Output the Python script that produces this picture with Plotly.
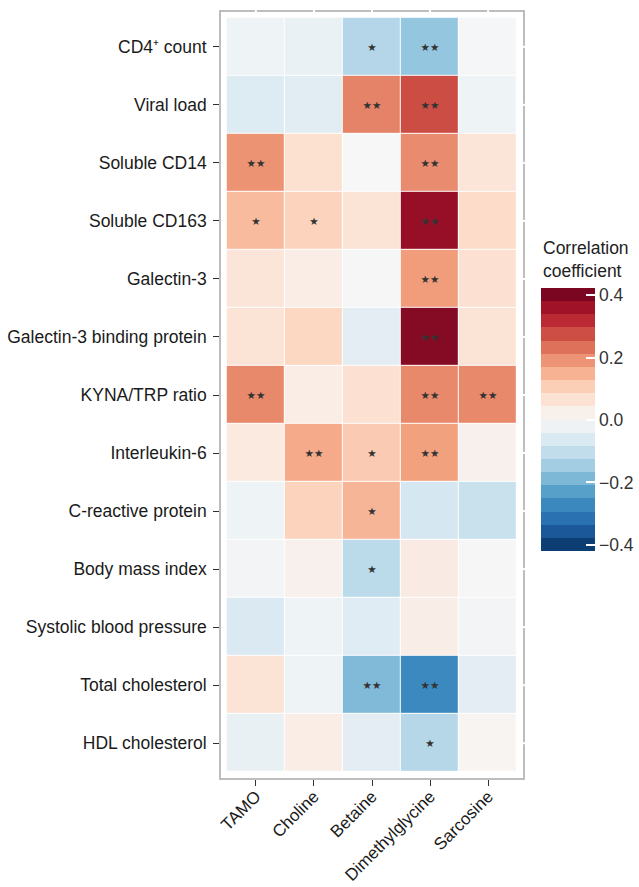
import plotly.graph_objects as go

metabolites = ["TAMO", "Choline", "Betaine", "Dimethylglycine", "Sarcosine"]
variables = ["CD4⁺ count", "Viral load", "Soluble CD14", "Soluble CD163", "Galectin-3",
             "Galectin-3 binding protein", "KYNA/TRP ratio", "Interleukin-6",
             "C-reactive protein", "Body mass index", "Systolic blood pressure",
             "Total cholesterol", "HDL cholesterol"]

# correlation coefficients (rows = variables, cols = metabolites)
r_cd4 = [-0.02, -0.03, -0.123, -0.165, -0.005]
r_vl = [-0.057, -0.046, 0.21, 0.275, -0.02]
r_scd14 = [0.19, 0.066, 0.0, 0.20, 0.055]
r_scd163 = [0.134, 0.095, 0.06, 0.367, 0.08]
r_gal3 = [0.055, 0.03, -0.003, 0.178, 0.065]
r_gal3bp = [0.058, 0.09, -0.045, 0.387, 0.058]
r_kyna = [0.203, 0.03, 0.065, 0.203, 0.203]
r_il6 = [0.04, 0.16, 0.11, 0.173, 0.02]
r_crp = [-0.02, 0.095, 0.143, -0.075, -0.096]
r_bmi = [-0.012, 0.02, -0.113, 0.035, -0.003]
r_sbp = [-0.064, -0.02, -0.053, 0.028, -0.012]
r_tc = [0.06, -0.02, -0.187, -0.272, -0.045]
r_hdl = [-0.032, 0.03, -0.045, -0.12, 0.008]

# significance marks
s_cd4 = ["", "", "*", "**", ""]
s_vl = ["", "", "**", "**", ""]
s_scd14 = ["**", "", "", "**", ""]
s_scd163 = ["*", "*", "", "**", ""]
s_gal3 = ["", "", "", "**", ""]
s_gal3bp = ["", "", "", "**", ""]
s_kyna = ["**", "", "", "**", "**"]
s_il6 = ["", "**", "*", "**", ""]
s_crp = ["", "", "*", "", ""]
s_bmi = ["", "", "*", "", ""]
s_sbp = ["", "", "", "", ""]
s_tc = ["", "", "**", "**", ""]
s_hdl = ["", "", "", "*", ""]

cbar_ticks = [-0.4, -0.2, 0.0, 0.2, 0.4]

z = [r_cd4, r_vl, r_scd14, r_scd163, r_gal3, r_gal3bp, r_kyna, r_il6, r_crp,
     r_bmi, r_sbp, r_tc, r_hdl]
sig = [s_cd4, s_vl, s_scd14, s_scd163, s_gal3, s_gal3bp, s_kyna, s_il6, s_crp,
       s_bmi, s_sbp, s_tc, s_hdl]
stars = [[s.replace("*", "★") for s in row] for row in sig]

LIM = 0.421
rdbu = ["#053061", "#2166AC", "#4393C3", "#92C5DE", "#D1E5F0", "#F7F7F7",
        "#FDDBC7", "#F4A582", "#D6604D", "#B2182B", "#67001F"]
cont_scale = [[i / 10, c] for i, c in enumerate(rdbu)]


def hex2rgb(h):
    return tuple(int(h[i:i + 2], 16) for i in (1, 3, 5))


def interp(t):
    pos = t * 10
    i = min(int(pos), 9)
    f = pos - i
    a, b = hex2rgb(rdbu[i]), hex2rgb(rdbu[i + 1])
    return "rgb(%d,%d,%d)" % tuple(round(a[k] + (b[k] - a[k]) * f) for k in range(3))


NB = 20
step_scale = []
for k in range(NB):
    c = interp((k + 0.5) / NB)
    step_scale.append([k / NB, c])
    step_scale.append([(k + 1) / NB, c])

FONT = "Liberation Sans"
FS = 17.5
L, R, T, B = 221, 523, 12, 778
PW, PH = R - L, B - T

fig = go.Figure()
fig.add_trace(go.Heatmap(
    z=z, x=metabolites, y=variables, text=stars, texttemplate="%{text}",
    textfont=dict(family="DejaVu Sans", size=10.5, color="#333333"),
    colorscale=cont_scale, zmin=-LIM, zmax=LIM, showscale=False,
    xgap=1, ygap=1, hoverinfo="skip"))

fig.add_trace(go.Scatter(
    x=[None], y=[None], mode="markers", showlegend=False, hoverinfo="skip",
    marker=dict(color=[0], cmin=-LIM, cmax=LIM, colorscale=step_scale, showscale=True,
                colorbar=dict(
                    xref="paper", yref="paper",
                    x=(541 - L) / PW, xanchor="left", y=(B - 420) / PH, yanchor="middle",
                    lenmode="pixels", len=263, thickness=54,
                    outlinewidth=0, xpad=0, ypad=0,
                    tickvals=cbar_ticks, tickformat=".1f",
                    ticks="inside", ticklen=9, tickcolor="white", tickwidth=1.5,
                    tickfont=dict(family=FONT, size=FS, color="#333333"),
                ))))

fig.add_annotation(
    text="Correlation<br>coefficient", xref="paper", yref="paper",
    x=(541 - L) / PW, y=(B - 236) / PH, xanchor="left", yanchor="top",
    align="left", showarrow=False,
    font=dict(family=FONT, size=FS, color="#222222"))

# small white breaks on the panel border at grid positions (top and right edges)
for i in range(len(metabolites)):
    fig.add_shape(type="line", xref="x", yref="paper", x0=i, x1=i,
                  y0=1 - 2.5 / PH, y1=1 + 2.5 / PH, line=dict(color="white", width=2))
for j in range(len(variables)):
    fig.add_shape(type="line", xref="paper", yref="y", y0=j, y1=j,
                  x0=1 - 2.5 / PW, x1=1 + 2.5 / PW, line=dict(color="white", width=2))

axis_common = dict(showline=True, mirror=True, linecolor="#BDBDBD", linewidth=1.6,
                   ticks="outside", ticklen=6, tickcolor="#333333", tickwidth=1.2,
                   showgrid=False, zeroline=False)

fig.update_layout(
    width=639, height=887,
    margin=dict(l=L, r=639 - R, t=T, b=887 - B, autoexpand=False),
    plot_bgcolor="white", paper_bgcolor="white",
    xaxis=dict(**axis_common, type="category", range=[-0.6, 4.6], tickangle=-45,
               ticklabelstandoff=-6,
               tickfont=dict(family=FONT, size=17, color="#1a1a1a")),
    yaxis=dict(**axis_common, type="category", range=[12.6, -0.6], ticklabelstandoff=3,
               tickfont=dict(family=FONT, size=FS, color="#1a1a1a")),
)

fig.write_html("out.html", config={"displayModeBar": False},
               post_script="document.body.style.margin='0';")
